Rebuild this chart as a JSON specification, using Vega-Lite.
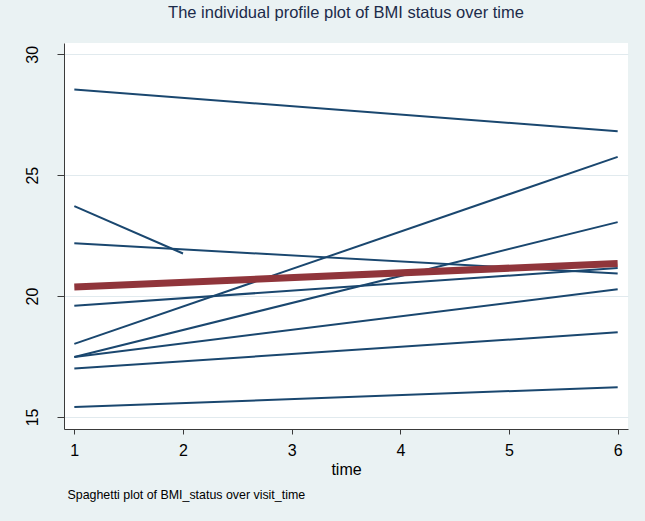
{
  "$schema": "https://vega.github.io/schema/vega-lite/v6.json",
  "width": 564,
  "height": 386,
  "autosize": "none",
  "padding": {"left": 64, "top": 43, "right": 17, "bottom": 92},
  "background": "#EAF2F3",
  "title": {
    "text": "The individual profile plot of  BMI status over time",
    "font": "Liberation Sans",
    "fontSize": 16.5,
    "fontWeight": "normal",
    "color": "#1c2b4a",
    "anchor": "middle",
    "baseline": "alphabetic",
    "offset": 9
  },
  "config": {
    "view": {"fill": "white", "stroke": null},
    "font": "Liberation Sans"
  },
  "datasets": {
    "profiles": [
      {"id": 1, "time": 1, "BMI_status": 28.55},
      {"id": 1, "time": 6, "BMI_status": 26.82},
      {"id": 2, "time": 1, "BMI_status": 23.72},
      {"id": 2, "time": 2, "BMI_status": 21.76},
      {"id": 3, "time": 1, "BMI_status": 22.18},
      {"id": 3, "time": 6, "BMI_status": 20.93},
      {"id": 4, "time": 1, "BMI_status": 19.6},
      {"id": 4, "time": 6, "BMI_status": 21.16},
      {"id": 5, "time": 1, "BMI_status": 18.02},
      {"id": 5, "time": 6, "BMI_status": 25.76},
      {"id": 6, "time": 1, "BMI_status": 17.48},
      {"id": 6, "time": 6, "BMI_status": 23.06},
      {"id": 7, "time": 1, "BMI_status": 17.48},
      {"id": 7, "time": 6, "BMI_status": 20.28},
      {"id": 8, "time": 1, "BMI_status": 17.0},
      {"id": 8, "time": 6, "BMI_status": 18.5},
      {"id": 9, "time": 1, "BMI_status": 15.41},
      {"id": 9, "time": 6, "BMI_status": 16.23}
    ],
    "mean": [
      {"time": 1, "BMI_status": 20.37},
      {"time": 6, "BMI_status": 21.35}
    ]
  },
  "layer": [
    {
      "data": {"name": "profiles"},
      "mark": {"type": "line", "color": "#1a476f", "strokeWidth": 2, "clip": true},
      "encoding": {
        "x": {
          "field": "time",
          "type": "quantitative",
          "scale": {"domain": [0.905, 6.095], "nice": false, "zero": false},
          "axis": {
            "values": [1, 2, 3, 4, 5, 6],
            "title": "time",
            "titleFont": "Liberation Sans",
            "titleFontSize": 16,
            "titleFontWeight": "normal",
            "titleColor": "#000000",
            "titleBaseline": "alphabetic",
            "titleY": 45,
            "labelFont": "Liberation Sans",
            "labelFontSize": 16,
            "labelColor": "#000000",
            "labelPadding": 8,
            "labelFlush": false,
            "tickSize": 5,
            "tickColor": "#3a3a3a",
            "domainColor": "#3a3a3a",
            "grid": false
          }
        },
        "y": {
          "field": "BMI_status",
          "type": "quantitative",
          "scale": {"domain": [14.5, 30.47], "nice": false, "zero": false},
          "axis": {
            "values": [15, 20, 25, 30],
            "title": null,
            "labelFont": "Liberation Sans",
            "labelFontSize": 16,
            "labelColor": "#000000",
            "labelAngle": -90,
            "labelAlign": "center",
            "labelBaseline": "bottom",
            "labelPadding": 17,
            "labelFlush": false,
            "tickSize": 7,
            "tickColor": "#3a3a3a",
            "domainColor": "#3a3a3a",
            "grid": true,
            "gridColor": "#E1EAEE",
            "gridWidth": 1
          }
        },
        "detail": {"field": "id", "type": "nominal"}
      }
    },
    {
      "data": {"name": "mean"},
      "mark": {"type": "line", "color": "#90353B", "strokeWidth": 7, "clip": true},
      "encoding": {
        "x": {
          "field": "time",
          "type": "quantitative",
          "axis": {
            "orient": "bottom",
            "title": "Spaghetti plot of BMI_status over visit_time",
            "titleFont": "Liberation Sans",
            "titleFontSize": 12.4,
            "titleFontWeight": "normal",
            "titleColor": "#000000",
            "titleAlign": "left",
            "titleBaseline": "alphabetic",
            "titleX": 3,
            "titleY": 69,
            "labels": false,
            "ticks": false,
            "domain": false,
            "grid": false
          }
        },
        "y": {"field": "BMI_status", "type": "quantitative"}
      }
    }
  ],
  "resolve": {"axis": {"x": "independent"}}
}
